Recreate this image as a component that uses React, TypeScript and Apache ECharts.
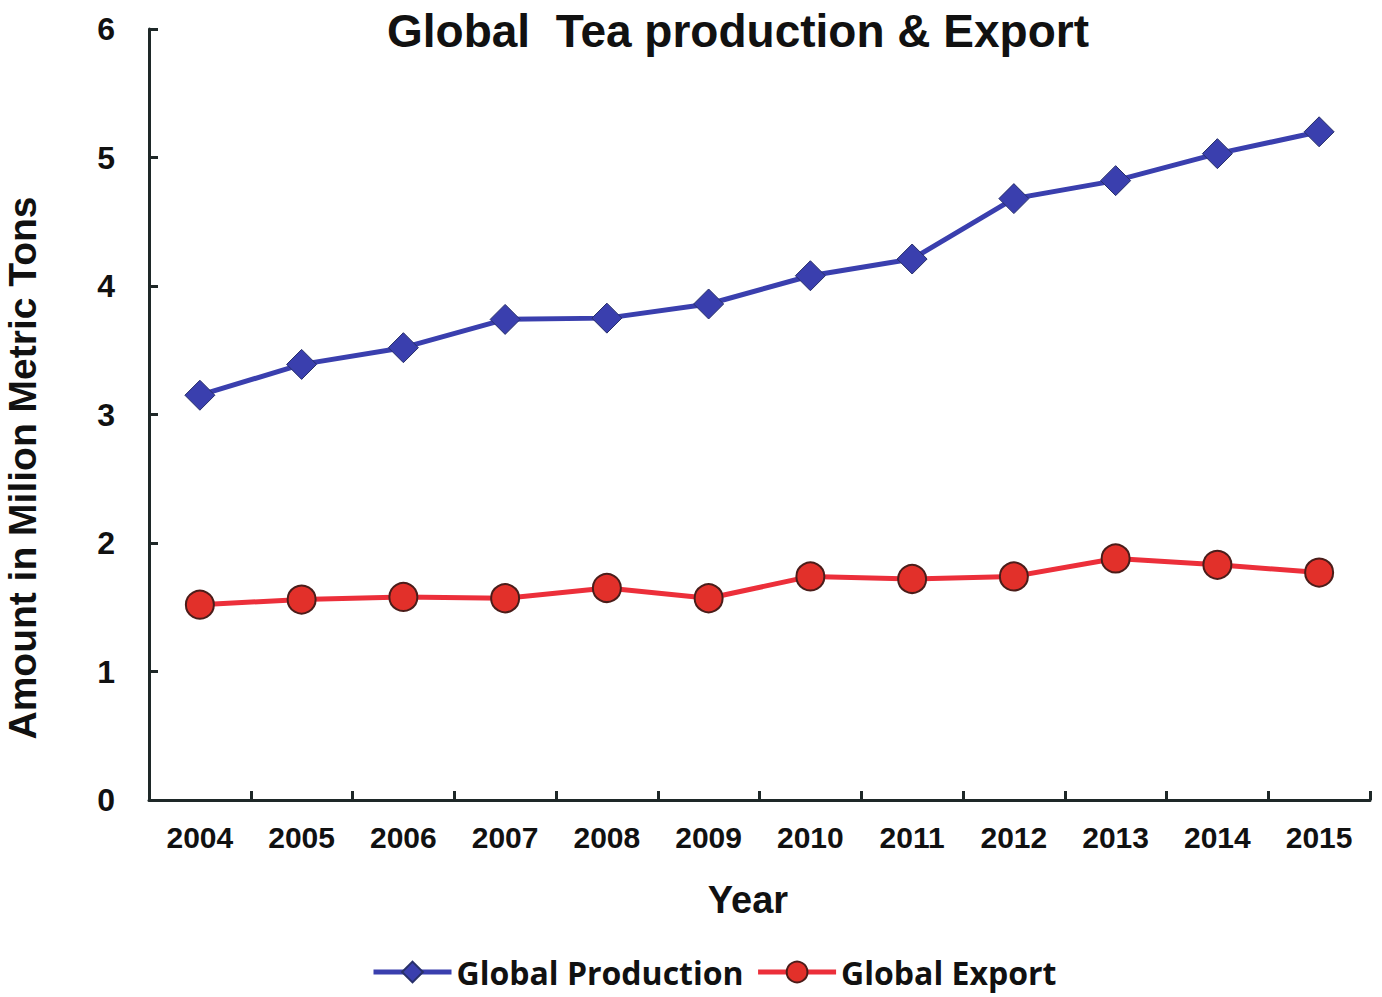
import React, { useEffect, useRef } from "react";
import * as echarts from "echarts";

const years = ["2004", "2005", "2006", "2007", "2008", "2009", "2010", "2011", "2012", "2013", "2014", "2015"];
const production = [3.15, 3.39, 3.52, 3.74, 3.75, 3.86, 4.08, 4.21, 4.68, 4.82, 5.03, 5.2];
const exportVals = [1.52, 1.56, 1.58, 1.57, 1.65, 1.57, 1.74, 1.72, 1.74, 1.88, 1.83, 1.77];

export default function App() {
  const ref = useRef<HTMLDivElement>(null);
  useEffect(() => {
    document.body.style.margin = "0";
    const chart = echarts.init(ref.current!, null, { renderer: "svg" });
    const axisColor = "#1e2828";
    chart.setOption({
      animation: false,
      backgroundColor: "#ffffff",
      title: {
        text: "Global  Tea production & Export",
        left: 733,
        textAlign: "center",
        top: 3,
        textStyle: { fontFamily: "Liberation Sans", fontWeight: "bold", fontSize: 46, color: "#111" },
      },
      legend: {
        bottom: 4,
        left: 366,
        orient: "horizontal",
        width: 1000,
        itemWidth: 78,
        itemHeight: 26,
        itemGap: 12,
        lineStyle: { width: 5 },
        textStyle: { fontFamily: "Open Sans", fontWeight: "bold", fontSize: 32, color: "#111" },
        data: ["Global Production", "Global Export"],
      },
      graphic: [
        {
          type: "text",
          x: 22,
          y: 468,
          rotation: Math.PI / 2,
          style: {
            text: "Amount in Milion Metric Tons",
            fontFamily: "Liberation Sans",
            fontWeight: "bold",
            fontSize: 39,
            fill: "#111",
            align: "center",
            verticalAlign: "middle",
          },
        },
        {
          type: "text",
          x: 748,
          y: 900,
          style: {
            text: "Year",
            fontFamily: "Liberation Sans",
            fontWeight: "bold",
            fontSize: 38,
            fill: "#111",
            align: "center",
            verticalAlign: "middle",
          },
        },
      ],
      grid: { left: 149, right: 12, top: 29, bottom: 197, containLabel: false },
      xAxis: {
        type: "category",
        data: years,
        boundaryGap: true,
        axisLine: { lineStyle: { color: axisColor, width: 3 } },
        axisTick: { show: true, inside: true, length: 9, lineStyle: { color: axisColor, width: 3 } },
        axisLabel: { margin: 22, fontFamily: "Liberation Sans", fontWeight: "bold", fontSize: 30, color: "#111" },
        splitLine: { show: false },
      },
      yAxis: {
        type: "value",
        min: 0,
        max: 6,
        interval: 1,
        axisLine: { show: true, lineStyle: { color: axisColor, width: 3 } },
        axisTick: { show: true, inside: true, length: 9, lineStyle: { color: axisColor, width: 3 } },
        axisLabel: { margin: 34, fontFamily: "Liberation Sans", fontWeight: "bold", fontSize: 32, color: "#111" },
        splitLine: { show: false },
      },
      series: [
        {
          name: "Global Production",
          type: "line",
          data: production,
          symbol: "diamond",
          symbolSize: 30,
          lineStyle: { color: "#3a3fae", width: 5 },
          itemStyle: { color: "#3a3fae", borderColor: "#28306a", borderWidth: 1 },
        },
        {
          name: "Global Export",
          type: "line",
          data: exportVals,
          symbol: "circle",
          symbolSize: 28,
          lineStyle: { color: "#ec2f3a", width: 5 },
          itemStyle: { color: "#e2302a", borderColor: "#4a1d1a", borderWidth: 2 },
        },
      ],
    });
    return () => chart.dispose();
  }, []);
  return <div ref={ref} style={{ position: "fixed", left: 0, top: 0, width: 1382, height: 997 }} />;
}
